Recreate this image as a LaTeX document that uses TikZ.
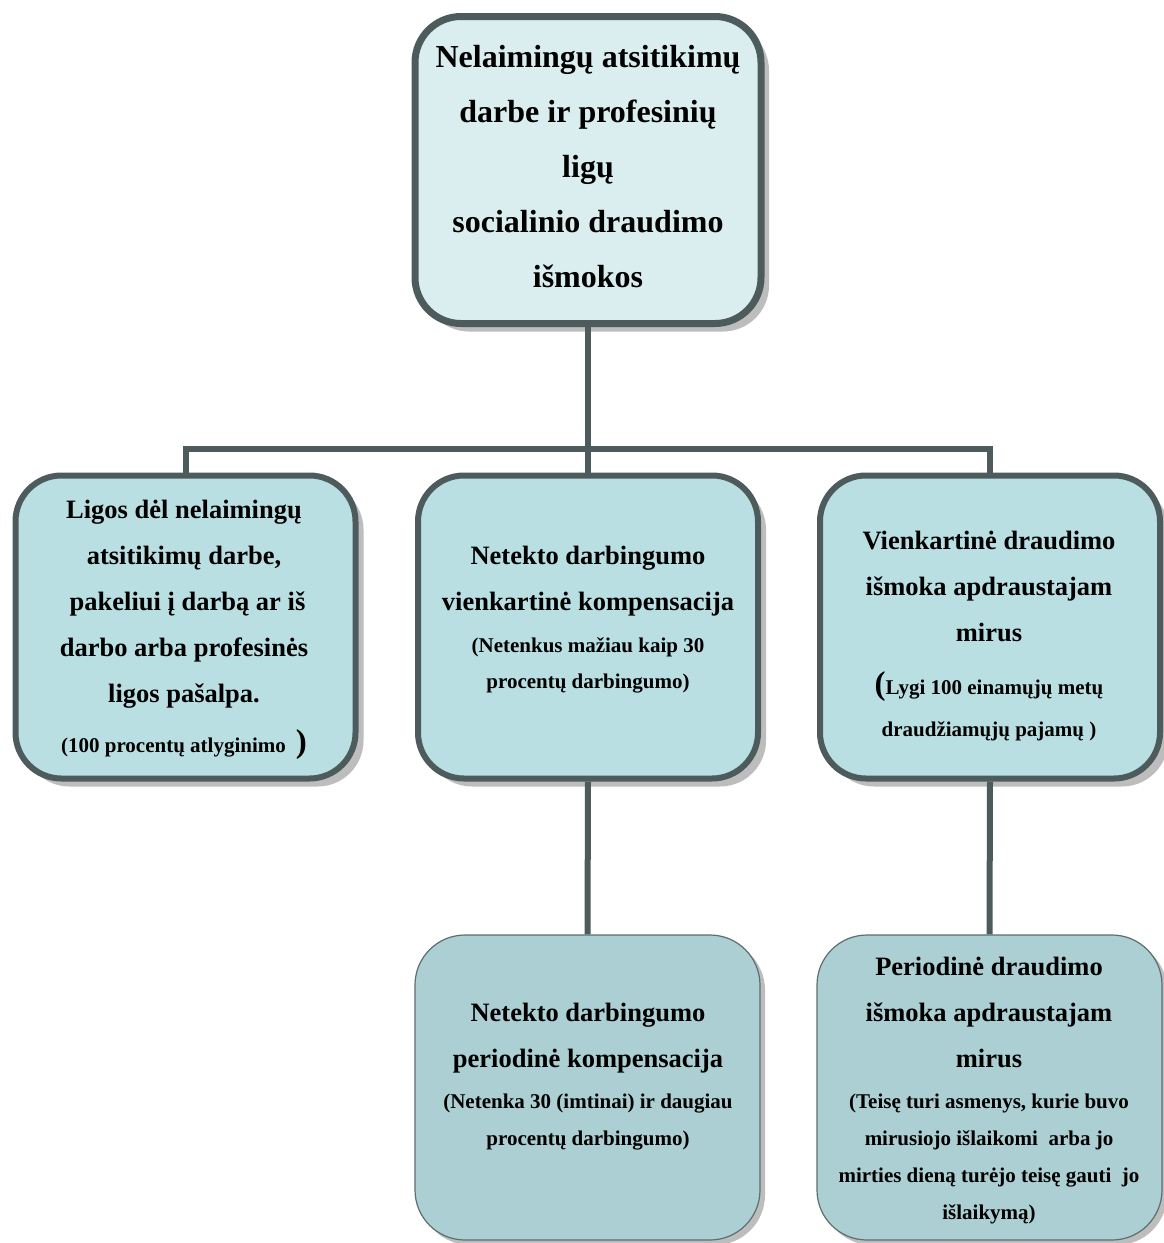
\documentclass[tikz,border=0pt]{standalone}
\usepackage{fontspec}
\setmainfont{Liberation Serif}
\usetikzlibrary{shadows}
\definecolor{bordc}{HTML}{4D5B5C}
\definecolor{thinc}{HTML}{5E6E70}
\definecolor{topc}{HTML}{DAEEF0}
\definecolor{midc}{HTML}{B9DFE3}
\definecolor{botc}{HTML}{ABCFD2}
\definecolor{shadc}{HTML}{BDBDBD}
\newcommand\ftop{\fontsize{32pt}{55pt}\selectfont\bfseries}
\newcommand\fbig{\fontsize{26.5pt}{46pt}\selectfont\bfseries}
\newcommand\fsm{\fontsize{21pt}{37pt}\selectfont}
\newcommand\fparen{\fontsize{33pt}{46pt}\selectfont}
\tikzset{
  boxbase/.style={rectangle, inner sep=0pt, rounded corners=46pt},
  topbox/.style={boxbase, draw=bordc, line width=7pt, fill=topc,
    drop shadow={shadow xshift=8pt, shadow yshift=-8pt, fill=shadc, opacity=1}},
  midbox/.style={boxbase, draw=bordc, line width=6pt, fill=midc,
    minimum width=340pt, minimum height=303pt,
    drop shadow={shadow xshift=8pt, shadow yshift=-8pt, fill=shadc, opacity=1}},
  botbox/.style={boxbase, draw=thinc, line width=1.2pt, fill=botc,
    minimum width=345pt, minimum height=305pt, rounded corners=50pt,
    drop shadow={shadow xshift=5pt, shadow yshift=-5pt, fill=shadc, opacity=1}},
  txt/.style={inner sep=0pt, align=center, anchor=north, font=\fbig},
  conn/.style={draw=bordc, line width=6pt}
}
\begin{document}
\begin{tikzpicture}[x=1pt,y=-1pt]
\useasboundingbox[fill=white] (0,0) rectangle (1163,1243);

% boxes
\node[topbox, minimum width=346pt, minimum height=307pt] (top) at (588,170) {};
\node[midbox] (left) at (185.5,627) {};
\node[midbox] (mid) at (588,627) {};
\node[midbox] (right) at (990,627) {};
\node[botbox] (bmid) at (587.5,1087.5) {};
\node[botbox] (bright) at (989.5,1087.5) {};

% connectors
\coordinate (bus) at (588,448.7);
\draw[conn] (top.south) -- (bus);
\draw[conn] (left.north) |- (bus) -| (right.north);
\draw[conn] (bus) -- (mid.north);
\draw[conn] (mid.south) -- (bmid.north);
\draw[conn] (right.south) -- (bright.north);

% texts
\node[txt, font=\ftop] (ttop) at (588,37)
  {\rule{0pt}{30pt}Nelaimingų atsitikimų\\darbe ir profesinių\\ligų\\socialinio draudimo\\išmokos};

\node[txt] (tleft) at (184,493.7)
  {\rule{0pt}{25pt}Ligos dėl nelaimingų\\atsitikimų darbe,\\\hspace*{7pt}pakeliui į darbą ar iš\\darbo arba profesinės\\ligos pašalpa.\\[4pt]{\fsm (100 procentų atlyginimo}\hspace{10pt}{\fparen)}};

\node[txt] (tmid) at (588,539)
  {\rule{0pt}{25pt}Netekto darbingumo\\vienkartinė kompensacija\\[-4pt]{\fsm (Netenkus mažiau kaip 30}\\[-10pt]{\fsm procentų darbingumo)}};

\node[txt] (tright) at (989,524)
  {\rule{0pt}{25pt}Vienkartinė draudimo\\išmoka apdraustajam\\mirus\\[7pt]{\fparen(}{\fsm Lygi 100 einamųjų metų}\\[-4pt]{\fsm draudžiamųjų pajamų )}};

\node[txt] (tbmid) at (588,996.7)
  {\rule{0pt}{25pt}Netekto darbingumo\\periodinė kompensacija\\[-5pt]{\fsm (Netenka 30 (imtinai) ir daugiau}\\[-9pt]{\fsm procentų darbingumo)}};

\node[txt] (tbright) at (989,950)
  {\rule{0pt}{25pt}Periodinė draudimo\\išmoka apdraustajam\\mirus\\[-5pt]{\fsm (Teisę turi asmenys, kurie buvo}\\[-9pt]{\fsm mirusiojo išlaikomi~ arba jo}\\[-9pt]{\fsm mirties dieną turėjo teisę gauti~ jo}\\[-9pt]{\fsm išlaikymą)}};
\end{tikzpicture}
\end{document}
